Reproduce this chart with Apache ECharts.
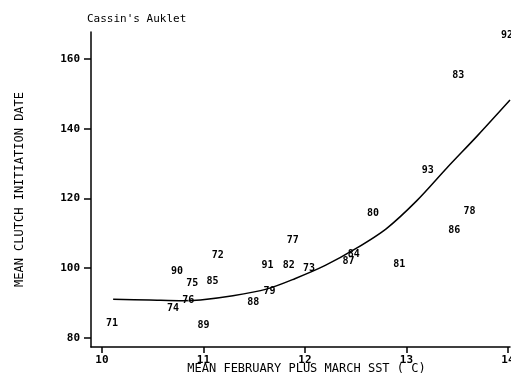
<!DOCTYPE html>
<html>
<head>
<meta charset="utf-8">
<script src="https://cdn.jsdelivr.net/npm/echarts@6/dist/echarts.min.js"></script>
<style>html,body{margin:0;padding:0;background:#fff}#c{width:511px;height:377px}</style>
</head>
<body>
<div id="c"></div>
<script>
const years = ['71','72','73','74','75','76','77','78','79','80','81','82','83','84','85','86','87','88','89','90','91','92','93'];
const sst   = [10.10,11.14,12.04,10.70,10.89,10.85,11.88,13.62,11.65,12.67,12.93,11.84,13.51,12.48,11.09,13.47,12.43,11.49,11.00,10.74,11.63,13.99,13.21];
const dates = [84.3,103.8,100.0,88.5,95.7,90.7,107.9,116.4,93.3,115.7,101.1,100.9,155.4,104.1,96.1,110.7,101.9,90.1,83.7,99.0,100.9,166.8,127.9];
const curveX = [10.11,10.47,10.80,10.97,11.29,11.62,11.90,12.20,12.50,12.80,13.10,13.40,13.70,14.02];
const curveY = [91.1,90.9,90.7,90.9,92.1,94.0,97.0,100.8,105.6,111.3,119.3,128.8,138.0,148.2];
const xTicks = [10,11,12,13,14];
const yTicks = [80,100,120,140,160];

const mono = 'DejaVu Sans Mono';
const chart = echarts.init(document.getElementById('c'), null, {renderer:'canvas'});
chart.setOption({
  animation:false,
  backgroundColor:'#fff',
  title:{text:"Cassin's Auklet", left:82, top:9, textStyle:{fontFamily:mono, fontSize:11, fontWeight:'normal', color:'#000'}},
  grid:{left:91, right:1, top:32, bottom:30, containLabel:false, outerBoundsMode:'none'},
  xAxis:{
    type:'value', min:9.892, max:14.02,
    name:'MEAN FEBRUARY PLUS MARCH SST ( C)', nameLocation:'middle', nameGap:16, nameMoveOverlap:false,
    nameTextStyle:{fontFamily:mono, fontSize:12, color:'#000', padding:[0,0,0,12]},
    axisLine:{show:true, onZero:false, lineStyle:{color:'#000', width:1.5}},
    axisTick:{show:true, customValues:xTicks, length:6, lineStyle:{color:'#000', width:1.5}},
    axisLabel:{customValues:xTicks, margin:8, fontFamily:mono, fontSize:11, fontWeight:'bold', color:'#000'},
    splitLine:{show:false}
  },
  yAxis:{
    type:'value', min:77.42, max:167.7,
    name:'MEAN CLUTCH INITIATION DATE', nameLocation:'middle', nameGap:65, nameRotate:90, nameMoveOverlap:false,
    nameTextStyle:{fontFamily:mono, fontSize:12, color:'#000'},
    axisLine:{show:true, onZero:false, lineStyle:{color:'#000', width:1.5}},
    axisTick:{show:true, customValues:yTicks, length:7, lineStyle:{color:'#000', width:1.5}},
    axisLabel:{customValues:yTicks, margin:11, fontFamily:mono, fontSize:11, fontWeight:'bold', color:'#000'},
    splitLine:{show:false}
  },
  series:[
    {
      type:'line', data:curveX.map((x,i)=>[x,curveY[i]]), smooth:0.3, showSymbol:false, symbol:'none',
      lineStyle:{color:'#000', width:1.5}, z:1
    },
    {
      type:'scatter', symbol:'circle', symbolSize:1, itemStyle:{color:'#fff', opacity:1}, clip:false,
      data:sst.map((x,i)=>[x,dates[i],years[i]]),
      label:{show:true, position:[0.5,0.5], align:'center', verticalAlign:'middle', formatter:p=>p.data[2], fontFamily:mono, fontSize:10, fontWeight:'bold', color:'#000', opacity:1},
      emphasis:{disabled:true},
      z:2
    }
  ]
});
</script>
</body>
</html>
